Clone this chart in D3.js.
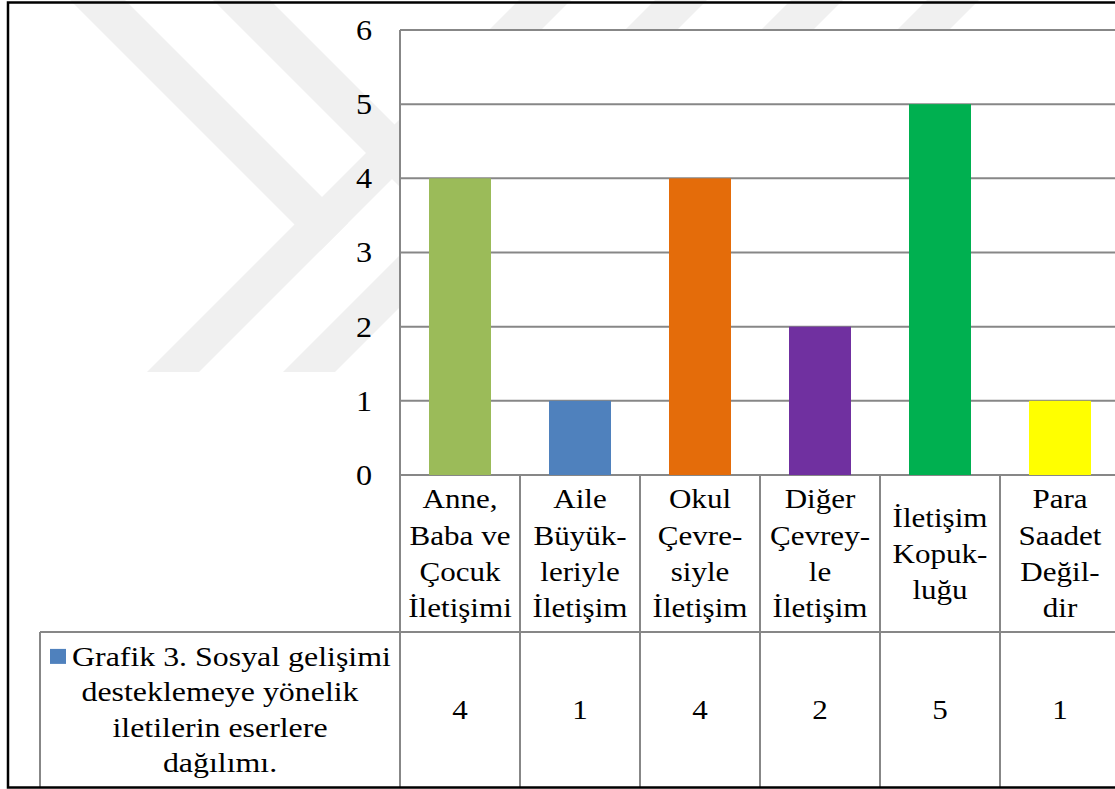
<!DOCTYPE html>
<html>
<head>
<meta charset="utf-8">
<script src="https://cdn.jsdelivr.net/npm/d3@7"></script>
<style>
  html, body { margin: 0; padding: 0; background: #fff; }
  svg { display: block; }
  text { font-family: "Liberation Serif", "Times New Roman", serif; fill: #000; }
</style>
</head>
<body>
<svg id="chart" width="1115" height="789"></svg>
<script>
// chart data
const categoryLines = [
    ["Anne,", "Baba ve", "Çocuk", "İletişimi"],
    ["Aile", "Büyük-", "leriyle", "İletişim"],
    ["Okul", "Çevre-", "siyle", "İletişim"],
    ["Diğer", "Çevrey-", "le", "İletişim"],
    ["İletişim", "Kopuk-", "luğu"],
    ["Para", "Saadet", "Değil-", "dir"]
];
const values = [4, 1, 4, 2, 5, 1];
const barColors = ["#9BBB59", "#4F81BD", "#E46C0A", "#7030A0", "#00B050", "#FFFF00"];
const yTicks = [0, 1, 2, 3, 4, 5, 6];
const seriesLines = ["Grafik 3. Sosyal gelişimi", "desteklemeye yönelik", "iletilerin eserlere", "dağılımı."];
const seriesColor = "#4F81BD";

const categories = categoryLines.map(d => d.join(" "));

const fontSize = 27.5;
const stretch = 1.13;     // text in the picture is a bit wide
const lineGap = 36.3;
const gridColor = "#878787";

const plotLeft = 400, plotTop = 30, plotBottom = 475, plotRight = 1120;
const rowSplit = 632, tableBottom = 787, legendLeft = 40;

const svg = d3.select("#chart");

// watermark bands (behind everything)
const wm = svg.append("g").attr("fill", "#f0f0f0");
const lowBands = [519, 655, 791, 927];
lowBands.forEach(c => {
    wm.append("polygon")
        .attr("points", [[c - 372, 372], [c + 52 - 372, 372], [c + 52, 0], [c, 0]].join(" "));
});
const upBands = [[70, 125, 519], [213, 270, 655]];
upBands.forEach(([a, b, c]) => {
    const yb = (c + 52 - b) / 2, ya = (c + 52 - a) / 2;
    wm.append("polygon")
        .attr("points", [[a, 0], [b, 0], [b + yb, yb], [a + ya, ya]].join(" "));
});

// white plot area and table cover the watermark
svg.append("rect").attr("x", plotLeft).attr("y", plotTop)
    .attr("width", plotRight - plotLeft).attr("height", tableBottom - plotTop).attr("fill", "#fff");
svg.append("rect").attr("x", legendLeft).attr("y", rowSplit)
    .attr("width", plotLeft - legendLeft).attr("height", tableBottom - rowSplit).attr("fill", "#fff");

const x = d3.scaleBand().domain(categories).range([plotLeft, plotRight]).padding(0);
const y = d3.scaleLinear().domain([0, 6]).range([plotBottom, plotTop]);

// gridlines
svg.append("g")
    .selectAll("line")
    .data(yTicks)
    .join("line")
    .attr("x1", plotLeft).attr("x2", plotRight)
    .attr("y1", d => y(d)).attr("y2", d => y(d))
    .attr("stroke", gridColor).attr("stroke-width", 2);

// y axis labels
const yAxis = svg.append("g")
    .attr("transform", `translate(${plotLeft},0)`)
    .call(d3.axisLeft(y).tickValues(yTicks).tickSize(0).tickFormat(d3.format("d")));
yAxis.select(".domain").remove();
yAxis.selectAll("text")
    .attr("x", 0).attr("dy", null)
    .attr("text-anchor", "middle")
    .attr("transform", `translate(-36,${fontSize * 0.34}) scale(${stretch},1)`)
    .style("font-size", (fontSize + 1) + "px")
    .style("font-family", "'Liberation Serif', 'Times New Roman', serif")
    .attr("fill", "#000");

// bars
const barW = 62;
svg.append("g")
    .selectAll("rect")
    .data(values)
    .join("rect")
    .attr("x", (d, i) => x(categories[i]) + (x.bandwidth() - barW) / 2)
    .attr("y", d => y(d))
    .attr("width", barW)
    .attr("height", d => y(0) - y(d))
    .attr("fill", (d, i) => barColors[i]);

// table lines
const lines = svg.append("g").attr("stroke", gridColor).attr("stroke-width", 2);
lines.append("line").attr("x1", plotLeft).attr("x2", plotLeft).attr("y1", plotTop).attr("y2", tableBottom);
lines.append("line").attr("x1", plotLeft).attr("x2", plotRight).attr("y1", plotTop).attr("y2", plotTop);
categories.forEach((c, i) => {
    if (i === 0) return;
    lines.append("line").attr("x1", x(c)).attr("x2", x(c)).attr("y1", plotBottom).attr("y2", tableBottom);
});
lines.append("line").attr("x1", legendLeft).attr("x2", plotRight).attr("y1", rowSplit).attr("y2", rowSplit);
lines.append("line").attr("x1", legendLeft).attr("x2", legendLeft).attr("y1", rowSplit).attr("y2", tableBottom);

// helper for stretched text
function addText(g, str, cx, cy, anchor, sx) {
    g.append("text")
        .attr("text-anchor", anchor || "middle")
        .attr("transform", `translate(${cx},${cy}) scale(${sx || stretch},1)`)
        .style("font-size", fontSize + "px")
        .text(str);
}

// category labels
const catRowMid = (plotBottom + rowSplit) / 2 + fontSize * 0.34;
const catG = svg.append("g");
categoryLines.forEach((ls, i) => {
    const cx = x(categories[i]) + x.bandwidth() / 2;
    ls.forEach((s, j) => {
        addText(catG, s, cx, catRowMid + (j - (ls.length - 1) / 2) * lineGap);
    });
});

// value row
const valG = svg.append("g");
values.forEach((v, i) => {
    addText(valG, v, x(categories[i]) + x.bandwidth() / 2, (rowSplit + tableBottom) / 2 + fontSize * 0.34);
});

// series legend cell
const legMid = (rowSplit + tableBottom) / 2 + fontSize * 0.34;
const legG = svg.append("g");
seriesLines.forEach((s, j) => {
    const cy = legMid + (j - (seriesLines.length - 1) / 2) * (lineGap - 1);
    if (j === 0) {
        legG.append("rect").attr("x", 50).attr("y", cy - 17).attr("width", 16).attr("height", 15)
            .attr("fill", seriesColor);
        addText(legG, s, 72, cy, "start", 1.16);
    } else {
        addText(legG, s, 220, cy, "middle", 1.16);
    }
});

// outer frame
svg.append("rect")
    .attr("x", 8).attr("y", 2.5)
    .attr("width", 1120).attr("height", 785)
    .attr("fill", "none").attr("stroke", "#000").attr("stroke-width", 2.5);
</script>
</body>
</html>
